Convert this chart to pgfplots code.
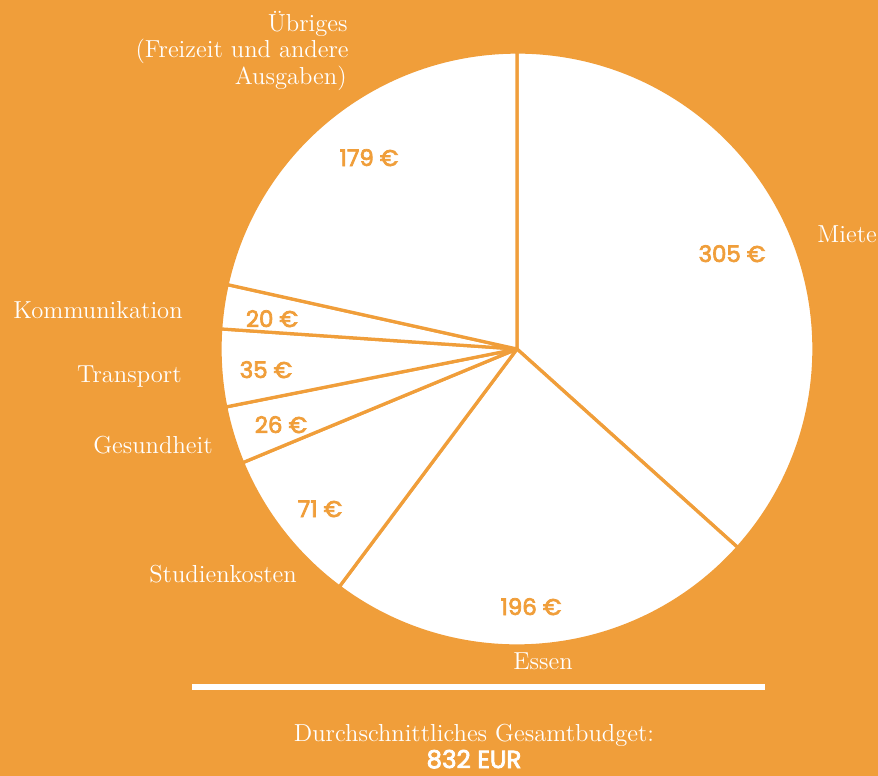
\documentclass[border=0pt]{standalone}
\usepackage{fontspec}
\usepackage{pgfplots}
\usepackage{pgfplotstable}
\pgfplotsset{compat=1.18}
\newfontfamily\valfont{Poppins}[FakeBold=3.2]
\definecolor{bg}{RGB}{240,158,58}

\pgfplotstableread[col sep=comma]{
name,value
Miete,305
Essen,196
Studienkosten,71
Gesundheit,26
Transport,35
Kommunikation,20
Uebriges,179
}\budget

\begin{document}
\begin{tikzpicture}[
  lbl/.style={text=white, inner sep=0pt, font=\fontsize{14}{16}\selectfont},
  val/.style={text=bg, inner sep=0pt, font=\valfont\fontsize{13}{16}\selectfont, anchor=base}]
\pgfplotstablegetrowsof{\budget}
\pgfmathtruncatemacro\nrows{\pgfplotsretval-1}
\gdef\total{0}
\pgfplotsforeachungrouped \i in {0,...,\nrows}{%
  \pgfplotstablegetelem{\i}{value}\of\budget
  \pgfmathsetmacro\tmp{\total+\pgfplotsretval}\xdef\total{\tmp}}
\gdef\cum{90}
\pgfplotsforeachungrouped \i in {0,...,\nrows}{%
  \pgfplotstablegetelem{\i}{value}\of\budget
  \pgfmathsetmacro\tmp{\cum-(360/\total)*\pgfplotsretval}%
  \pgfmathsetmacro\tx{517+297*cos(\cum)}%
  \pgfmathsetmacro\ty{349-297*sin(\cum)}%
  \expandafter\xdef\csname sA\i\endcsname{\cum}%
  \expandafter\xdef\csname eA\i\endcsname{\tmp}%
  \expandafter\xdef\csname px\i\endcsname{\tx}%
  \expandafter\xdef\csname py\i\endcsname{\ty}%
  \xdef\cum{\tmp}}
\begin{axis}[x=0.02cm, y=0.02cm, y dir=reverse,
  xmin=0, xmax=878, ymin=0, ymax=776,
  hide axis, clip=false, anchor=north west, at={(0,0)}]
\fill[bg] (axis cs:0,0) rectangle (axis cs:878,776);
\pgfplotsforeachungrouped \i in {0,...,\nrows}{%
  \edef\temp{\noexpand\filldraw[fill=white, draw=bg, line width=0.065cm, line join=round]
    (axis cs:517,349) -- (axis cs:\csname px\i\endcsname,\csname py\i\endcsname)
    arc[start angle=\csname sA\i\endcsname, end angle=\csname eA\i\endcsname, radius=5.94cm] -- cycle;}%
  \temp}
% category labels
\node[lbl, anchor=base east] at (axis cs:348,31) {Übriges};
\node[lbl, anchor=base east] at (axis cs:349,57) {(Freizeit und andere};
\node[lbl, anchor=base east] at (axis cs:347,84) {Ausgaben)};
\node[lbl, anchor=base west] at (axis cs:817,242) {Miete};
\node[lbl, anchor=base west] at (axis cs:13,318) {Kommunikation};
\node[lbl, anchor=base east] at (axis cs:182,382) {Transport};
\node[lbl, anchor=base east] at (axis cs:213,453) {Gesundheit};
\node[lbl, anchor=base west] at (axis cs:149,582) {Studienkosten};
\node[lbl, anchor=base] at (axis cs:543,669) {Essen};
% values
\node[val] at (axis cs:369,166) {179 €};
\node[val] at (axis cs:732,262) {305 €};
\node[val] at (axis cs:272,327) {20 €};
\node[val] at (axis cs:266,378) {35 €};
\node[val] at (axis cs:281,433) {26 €};
\node[val] at (axis cs:320,517) {71 €};
\node[val] at (axis cs:531,615) {196 €};
% total
\draw[white, line width=0.12cm] (axis cs:192,687) -- (axis cs:765,687);
\node[lbl, anchor=base] at (axis cs:474,741) {Durchschnittliches Gesamtbudget:};
\node[text=white, inner sep=0pt, anchor=base, font=\valfont\fontsize{14}{15}\selectfont] at (axis cs:474,768) {832 EUR};
\end{axis}
\pgfresetboundingbox
\useasboundingbox (current axis.south west) rectangle (current axis.north east);
\end{tikzpicture}
\end{document}
